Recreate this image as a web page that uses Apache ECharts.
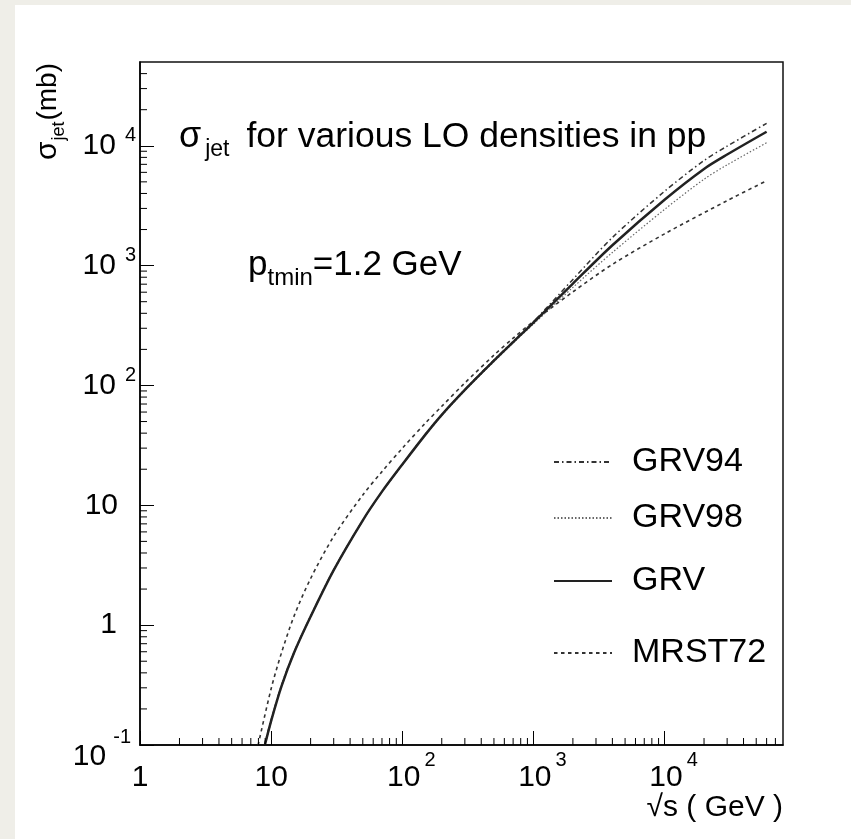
<!DOCTYPE html>
<html><head><meta charset="utf-8">
<script src="https://cdn.jsdelivr.net/npm/echarts@6/dist/echarts.min.js"></script>
<style>
html,body{margin:0;padding:0;background:#EFEEE8;}
#bg{position:absolute;left:15px;top:5px;width:836px;height:834px;background:#fff;}
#c{position:absolute;left:0;top:0;width:851px;height:839px;}
</style>
</head><body><div id="bg"></div><div id="c"></div>
<script>
// ---- data ----
const grv94X = [8.9, 10, 12, 15, 20, 30, 50, 70, 100, 150, 200, 300, 500, 700, 1000, 2000, 4000, 10000, 20000, 30000, 60000];
const grv94Y = [0.1, 0.162, 0.315, 0.6, 1.19, 2.9, 7.5, 13.0, 21.9, 39.2, 57, 92.5, 163, 233, 340, 767, 1716, 4170, 7530, 9930, 15380];

const grv98X = [9.0, 10, 12, 15, 20, 30, 50, 70, 100, 150, 200, 300, 500, 700, 1000, 2000, 4000, 10000, 20000, 30000, 60000];
const grv98Y = [0.1, 0.156, 0.305, 0.585, 1.17, 2.86, 7.45, 12.9, 21.7, 38.5, 56, 90.5, 158, 226, 325, 658, 1287, 2945, 5256, 6929, 10600];

const grvX = [8.96, 10, 12, 15, 20, 30, 50, 70, 100, 150, 200, 300, 500, 700, 1000, 2000, 4000, 10000, 20000, 30000, 60000];
const grvY = [0.1, 0.159, 0.31, 0.593, 1.18, 2.88, 7.5, 13.0, 21.9, 38.9, 56.9, 91.8, 161, 230, 335, 708, 1479, 3548, 6410, 8450, 13090];

const mrstX = [7.96, 10, 12, 15, 20, 30, 50, 70, 100, 150, 200, 300, 500, 700, 1000, 2000, 4040, 10000, 30000, 60000];
const mrstY = [0.1, 0.295, 0.589, 1.2, 2.45, 5.5, 12.2, 19.1, 29.9, 48.5, 67, 105, 179, 248, 342, 604, 1031, 1841, 3483, 5105];

// axis ranges and tick values
const X_MIN = 1, X_MAX = 8e4, Y_MIN = 0.1, Y_MAX = 5e4;
const xDecades = [1, 10, 100, 1000, 10000];
const yDecades = [0.1, 1, 10, 100, 1000, 10000];
const minorMultipliers = [2, 3, 4, 5, 6, 7, 8, 9];

// ---- build ----
const FONT = '"Liberation Sans", Arial, Helvetica, sans-serif';
const zip = (xs, ys) => xs.map((x, i) => [x, ys[i]]);
const xMinor = [], yMinor = [];
xDecades.forEach(d => minorMultipliers.forEach(m => { const v = d * m; if (v < X_MAX) xMinor.push(v); }));
yDecades.forEach(d => minorMultipliers.forEach(m => { const v = d * m; if (v < Y_MAX) yMinor.push(v); }));

function decadeExp(v) {
  const e = Math.round(Math.log10(v));
  return Math.abs(v - Math.pow(10, e)) / v < 1e-6 ? e : null;
}

const chart = echarts.init(document.getElementById('c'), null, {renderer: 'canvas'});

const legendBase = (name, cy) => ({
  data: [name], left: 553, top: cy - 20, padding: 0, selectedMode: false,
  itemWidth: 58, itemHeight: 14,
  itemStyle: {color: 'rgba(0,0,0,0)', opacity: 0, borderWidth: 0},
  textStyle: {fontSize: 34, fontFamily: FONT, color: '#000', lineHeight: 40, padding: [0, 0, 0, 15]}
});

const option = {
  animation: false,
  backgroundColor: 'transparent',
  grid: {left: 140, right: 68, top: 62, bottom: 94, show: true, borderColor: '#111', borderWidth: 1.5, backgroundColor: 'transparent'},
  legend: [
    legendBase('GRV94', 462),
    legendBase('GRV98', 518),
    legendBase('GRV', 581),
    legendBase('MRST72', 653)
  ],
  xAxis: {
    type: 'log', logBase: 10, min: X_MIN, max: X_MAX,
    axisLine: {show: true, onZero: false, lineStyle: {color: '#000', width: 1.5}},
    axisTick: {show: true, inside: true, length: 14, lineStyle: {color: '#000', width: 1}},
    splitLine: {show: false},
    axisLabel: {
      margin: 5, showMaxLabel: false, color: '#000', fontFamily: FONT,
      formatter: v => {
        const e = decadeExp(v);
        if (e === null) return '';
        if (e === 0) return '{c|1}';
        if (e === 1) return '{c|10}';
        return '{n|10}{sup|' + e + '}';
      },
      rich: {
        c: {fontSize: 30, lineHeight: 56, fontFamily: FONT, color: '#000'},
        n: {fontSize: 30, lineHeight: 56, fontFamily: FONT, color: '#000', padding: [0, 0, 0, 18]},
        sup: {fontSize: 20, lineHeight: 20, fontFamily: FONT, color: '#000', padding: [0, 0, 36, 4]}
      }
    }
  },
  yAxis: {
    type: 'log', logBase: 10, min: Y_MIN, max: Y_MAX,
    axisLine: {show: true, onZero: false, lineStyle: {color: '#000', width: 1.5}},
    axisTick: {show: true, inside: true, length: 14, lineStyle: {color: '#000', width: 1}},
    splitLine: {show: false},
    axisLabel: {
      margin: 4, showMaxLabel: false, color: '#000', fontFamily: FONT,
      formatter: v => {
        const e = decadeExp(v);
        if (e === null) return '';
        if (e === -1) return '{m|10}{msup|-1}';
        if (e === 0) return '{p1|1}';
        if (e === 1) return '{p10|10}';
        return '{n|10}{sup|' + e + '}';
      },
      rich: {
        n: {fontSize: 30, lineHeight: 40, fontFamily: FONT, color: '#000'},
        sup: {fontSize: 20, lineHeight: 20, fontFamily: FONT, color: '#000', padding: [0, 0, 20, 9]},
        p10: {fontSize: 30, lineHeight: 40, fontFamily: FONT, color: '#000', padding: [0, 18, 0, 0]},
        p1: {fontSize: 30, lineHeight: 40, fontFamily: FONT, color: '#000', padding: [0, 19, 0, 0]},
        m: {fontSize: 30, lineHeight: 36, fontFamily: FONT, color: '#000', padding: [24, 0, 0, 0]},
        msup: {fontSize: 20, lineHeight: 20, fontFamily: FONT, color: '#000', padding: [12, 5, 28, 7]}
      }
    }
  },
  graphic: [
    {type: 'text', x: 48, y: 63, rotation: Math.PI / 2, silent: true,
     style: {text: '{s|σ}{sub|jet}{m|(mb)}', align: 'right', verticalAlign: 'middle', fill: '#000',
       rich: {
         s: {fontSize: 30, lineHeight: 40, fontFamily: FONT, fill: '#000'},
         sub: {fontSize: 18, lineHeight: 18, fontFamily: FONT, fill: '#000', padding: [22, 1, 0, 1]},
         m: {fontSize: 28, lineHeight: 40, fontFamily: FONT, fill: '#000'}
       }}},
    {type: 'text', x: 179, y: 137, silent: true,
     style: {text: '{s|σ}{sub|jet}{m|for various LO densities in pp}', align: 'left', verticalAlign: 'middle', fill: '#000',
       rich: {
         s: {fontSize: 36, lineHeight: 48, fontFamily: FONT, fill: '#000'},
         sub: {fontSize: 23, lineHeight: 22, fontFamily: FONT, fill: '#000', padding: [26, 0, 0, 4]},
         m: {fontSize: 35.5, lineHeight: 48, fontFamily: FONT, fill: '#000', padding: [0, 0, 0, 17]}
       }}},
    {type: 'text', x: 248, y: 265, silent: true,
     style: {text: '{s|p}{sub|tmin}{m|=1.2 GeV}', align: 'left', verticalAlign: 'middle', fill: '#000',
       rich: {
         s: {fontSize: 35, lineHeight: 48, fontFamily: FONT, fill: '#000'},
         sub: {fontSize: 24, lineHeight: 22, fontFamily: FONT, fill: '#000', padding: [26, 0, 0, 0]},
         m: {fontSize: 35, lineHeight: 48, fontFamily: FONT, fill: '#000'}
       }}},
    {type: 'text', x: 783, y: 808, silent: true,
     style: {text: '√s ( GeV )', align: 'right', verticalAlign: 'middle', fill: '#000', fontSize: 30, fontFamily: FONT}}
  ],
  series: [
    {name: 'GRV94', type: 'line', data: zip(grv94X, grv94Y), symbol: 'none', smooth: 0.3, silent: true, z: 3,
     itemStyle: {color: '#333'}, lineStyle: {color: '#333', width: 1.5, type: [5, 3, 1.5, 3]}},
    {name: 'GRV98', type: 'line', data: zip(grv98X, grv98Y), symbol: 'none', smooth: 0.3, silent: true, z: 3,
     itemStyle: {color: '#666'}, lineStyle: {color: '#666', width: 1.2, type: [1.5, 2]}},
    {name: 'GRV', type: 'line', data: zip(grvX, grvY), symbol: 'none', smooth: 0.3, silent: true, z: 4,
     itemStyle: {color: '#222'}, lineStyle: {color: '#222', width: 2.5, type: 'solid'}},
    {name: 'MRST72', type: 'line', data: zip(mrstX, mrstY), symbol: 'none', smooth: 0.3, silent: true, z: 3,
     itemStyle: {color: '#333'}, lineStyle: {color: '#333', width: 1.6, type: [3.5, 3.5]}},
    {type: 'custom', silent: true, z: 5, data: xMinor.map(v => [v, Y_MIN]),
     renderItem: (p, api) => {
       const c = api.coord([api.value(0), Y_MIN]);
       return {type: 'line', shape: {x1: c[0], y1: c[1], x2: c[0], y2: c[1] - 7}, style: {stroke: '#000', lineWidth: 1}};
     }},
    {type: 'custom', silent: true, z: 5, data: yMinor.map(v => [X_MIN, v]),
     renderItem: (p, api) => {
       const c = api.coord([X_MIN, api.value(1)]);
       return {type: 'line', shape: {x1: c[0], y1: c[1], x2: c[0] + 7, y2: c[1]}, style: {stroke: '#000', lineWidth: 1}};
     }}
  ]
};
chart.setOption(option);
</script>
</body></html>
